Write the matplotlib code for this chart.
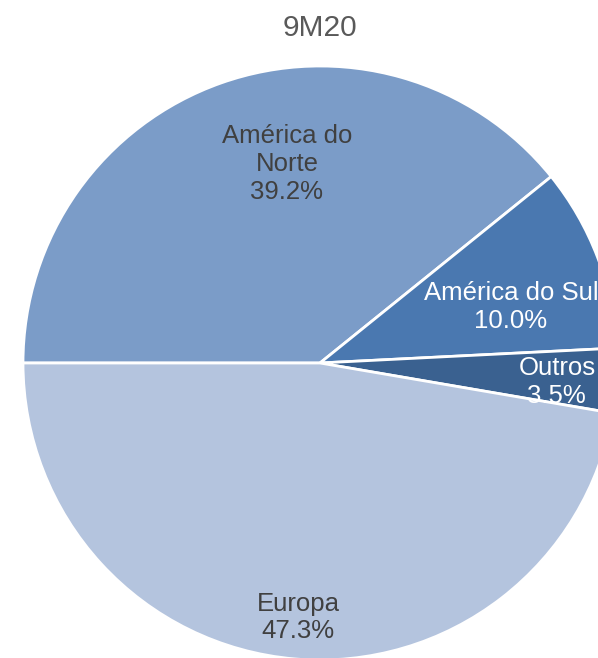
import matplotlib
matplotlib.use('Agg')
import matplotlib.pyplot as plt
import numpy as np

title = '9M20'
regions = ['América do\nNorte', 'América do Sul', 'Outros', 'Europa']
shares = [39.2, 10.0, 3.5, 47.3]

colors = ['#7b9cc8', '#4a78b0', '#3a6190', '#b4c4de']
text_colors = ['#404040', 'white', 'white', '#404040']
# label placement: (distance from centre, angle offset in degrees)
label_pos = [(0.68, -10), (0.67, -4.5), (0.80, -1.2), (0.86, 0)]

plt.rcParams['font.family'] = ['Liberation Sans', 'DejaVu Sans']

W, H = 598, 658
fig = plt.figure(figsize=(W / 100, H / 100), dpi=100)
cx, cy, r = 320, 363, 297
ax = fig.add_axes([(cx - r) / W, (H - cy - r) / H, 2 * r / W, 2 * r / H])

wedges, _ = ax.pie(shares, colors=colors, startangle=180, counterclock=False,
                   radius=1, wedgeprops=dict(edgecolor='white', linewidth=2))
for w in wedges:
    w.set_clip_on(False)
ax.set_xlim(-1, 1)
ax.set_ylim(-1, 1)
ax.axis('off')

for w, name, val, tc, (d, off) in zip(wedges, regions, shares, text_colors, label_pos):
    mid = np.deg2rad((w.theta1 + w.theta2) / 2 + off)
    ax.text(d * np.cos(mid), d * np.sin(mid), f'{name}\n{val:.1f}%',
            ha='center', va='center', fontsize=18.5, color=tc, linespacing=1.2)

fig.text(cx / W, 1 - 28 / H, title, ha='center', va='center', fontsize=21.5,
         color='#595959')

fig.savefig('out.png', dpi=100)
